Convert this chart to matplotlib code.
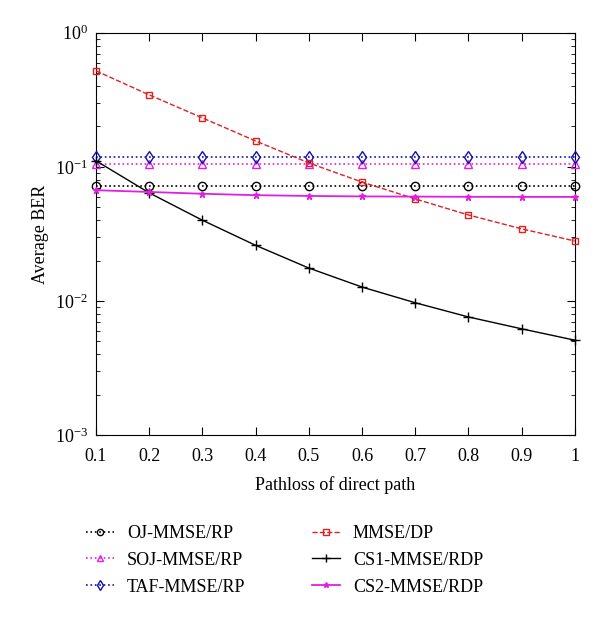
import matplotlib
matplotlib.use('Agg')
import matplotlib.pyplot as plt
import numpy as np

plt.rcParams['font.family'] = ['Liberation Serif', 'DejaVu Serif']
plt.rcParams['mathtext.fontset'] = 'stix'

# Pathloss of direct path
pathloss = [0.1, 0.2, 0.3, 0.4, 0.5, 0.6, 0.7, 0.8, 0.9, 1.0]

# Average BER
oj_mmse = [0.072] * 10
soj_mmse = [0.105] * 10
taf_mmse = [0.119] * 10
mmse_dp = [0.52, 0.344, 0.232, 0.156, 0.107, 0.077, 0.0577, 0.0438, 0.0345, 0.028]
cs1_mmse = [0.111, 0.064, 0.040, 0.026, 0.0176, 0.0127, 0.0097, 0.0076, 0.0062, 0.0051]
cs2_mmse = [0.067, 0.065, 0.063, 0.0615, 0.0607, 0.0602, 0.0600, 0.0598, 0.0597, 0.0597]

fig = plt.figure(figsize=(6, 6.18), dpi=100)
ax = fig.add_axes([0.16, 0.296, 0.798, 0.651])

kw = dict(mfc='none', clip_on=False, zorder=3)
ax.semilogy(pathloss, oj_mmse, ':', color='black', marker='o', ms=6, lw=1.2, label='OJ-MMSE/RP', **kw)
ax.semilogy(pathloss, soj_mmse, ':', color='#e020e0', marker='^', ms=6, lw=1.2, label='SOJ-MMSE/RP', **kw)
ax.semilogy(pathloss, taf_mmse, ':', color='#1010b0', marker='d', ms=6.5, lw=1.2, label='TAF-MMSE/RP', **kw)
ax.semilogy(pathloss, mmse_dp, '--', color='#e02020', marker='s', ms=5, lw=1.0, label='MMSE/DP', **kw)
ax.semilogy(pathloss, cs1_mmse, '-', color='black', marker='+', ms=7, lw=1.0, label='CS1-MMSE/RDP', clip_on=False, zorder=3)
ax.semilogy(pathloss, cs2_mmse, '-', color='#e020e0', marker='*', ms=5, lw=1.3, label='CS2-MMSE/RDP', clip_on=False, zorder=3)

ax.set_xlim(0.1, 1.0)
ax.set_ylim(1e-3, 1)
ax.set_xticks(pathloss)
ax.set_xticklabels(['0.1', '0.2', '0.3', '0.4', '0.5', '0.6', '0.7', '0.8', '0.9', '1'])
ax.tick_params(which='both', direction='in', top=True, right=True, labelsize=13)
ax.tick_params(which='major', length=6)
ax.tick_params(which='minor', length=3)
ax.tick_params(axis='x', pad=9)
ax.tick_params(axis='y', pad=6)
ax.set_xlabel('Pathloss of direct path', fontsize=13, labelpad=8)
ax.set_ylabel('Average BER', fontsize=13, labelpad=4)

handles, labels = ax.get_legend_handles_labels()
fig.legend(handles, labels, loc='upper left', bbox_to_anchor=(0.117, 0.177), ncol=2,
           frameon=False, fontsize=13, columnspacing=3.7, labelspacing=0.55,
           handlelength=1.55, handletextpad=0.7, markerscale=0.75)

plt.savefig('out.png', dpi=100)
